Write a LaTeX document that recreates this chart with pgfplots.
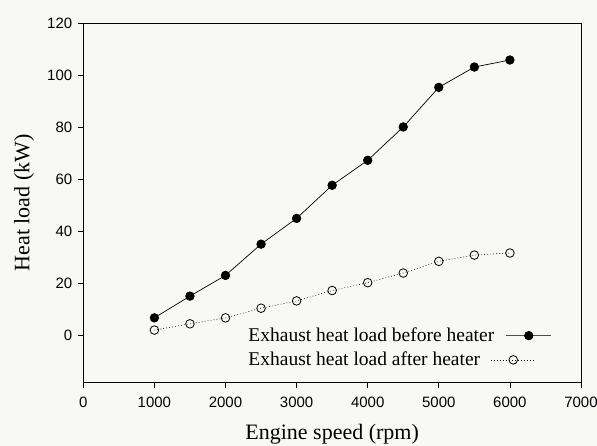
\documentclass[border=0pt]{standalone}
\usepackage{pgfplots}
\pgfplotsset{compat=1.18}
\usepackage{fontspec}
\setmainfont{Liberation Serif}
\newfontfamily\arial{Liberation Sans}
\definecolor{bg}{RGB}{248,248,245}

\begin{document}
\begin{tikzpicture}[x=1pt,y=1pt]
\path[use as bounding box, fill=bg] (-83.3,-63.3) rectangle (513.7,382.7);
\begin{axis}[
  at={(0pt,0pt)}, anchor=south west,
  scale only axis,
  width=497.7pt, height=359.4pt,
  xmin=0, xmax=7000, ymin=-18, ymax=120,
  xtick={0,1000,...,7000}, ytick={0,20,...,120},
  tick pos=left, tick align=outside,
  major tick length=5.5pt,
  tick style={black, line width=0.8pt},
  axis line style={black, line width=0.9pt},
  ticklabel style={font=\arial\fontsize{15}{15}\selectfont},
  xticklabel style={yshift=-5pt},
  yticklabel style={xshift=-2pt},
  /pgf/number format/assume math mode=true,
  /pgf/number format/1000 sep={},
  xlabel={Engine speed (rpm)},
  ylabel={Heat load (kW)},
  xlabel style={font=\fontsize{22}{22}\selectfont, at={(axis description cs:0.5,-0.1586)}, anchor=base},
  ylabel style={font=\fontsize{22}{22}\selectfont, at={(axis description cs:-0.1085,0.5)}, anchor=base},
  legend style={draw=none, fill=none, at={(axis cs:2250,4.6)}, anchor=north west,
    font=\fontsize{19.5}{20}\selectfont, row sep=5pt},
  legend cell align=left,
  legend plot pos=right,
]
\addplot[black, line width=0.7pt, mark=*, mark size=4.3pt, mark options={solid, fill=black},
  legend image code/.code={
    \path[use as bounding box, draw=none, fill=none] (0pt,-4pt) rectangle (55pt,4pt);
    \draw[mark=none, black!70, line width=1pt] (10pt,0pt) -- (55pt,0pt);
    \draw[mark repeat=2,mark phase=2, draw=none] plot coordinates {(10pt,0pt)(32.5pt,0pt)(55pt,0pt)};}]
  coordinates {(1000,6.9)(1500,15.25)(2000,23.2)(2500,35.2)(3000,45.1)(3500,57.8)(4000,67.4)(4500,80.2)(5000,95.4)(5500,103.2)(6000,105.9)};
\addlegendentry{Exhaust heat load before heater}
\addplot[black, line width=0.6pt, dash pattern=on 0.8pt off 2.2pt, mark=o, mark size=4.3pt, mark options={solid, fill=white, line width=0.8pt},
  legend image code/.code={
    \path[use as bounding box, draw=none, fill=none] (0pt,-4pt) rectangle (55pt,4pt);
    \draw[mark repeat=2,mark phase=2] plot coordinates {(-5pt,0pt)(17pt,0pt)(39pt,0pt)};}]
  coordinates {(1000,2.2)(1500,4.6)(2000,6.9)(2500,10.6)(3000,13.4)(3500,17.4)(4000,20.4)(4500,24.1)(5000,28.6)(5500,31.0)(6000,31.8)};
\addlegendentry{Exhaust heat load after heater}
\end{axis}
\end{tikzpicture}
\end{document}
